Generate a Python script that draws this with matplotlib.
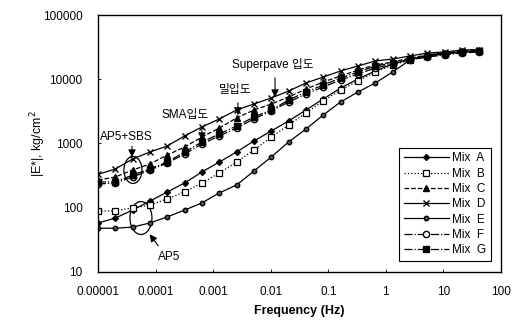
import matplotlib
matplotlib.use("Agg")
import matplotlib.pyplot as plt
from matplotlib.patches import Ellipse

plt.rcParams['font.family'] = ['Liberation Sans', 'Noto Sans CJK KR', 'DejaVu Sans']

freq = [1e-5, 2e-5, 4e-5, 8e-5, 1.6e-4, 3.2e-4, 6.4e-4, 1.28e-3, 2.56e-3, 5.12e-3,
        1.024e-2, 2.048e-2, 4.096e-2, 8.192e-2, 0.1638, 0.3277, 0.6554, 1.311,
        2.621, 5.243, 10.49, 20.97, 41.94]

mix_a = [58, 69, 92, 127, 176, 243, 360, 515, 738, 1094, 1565, 2240, 3320, 4930,
         7310, 10090, 13440, 17280, 20670, 23010, 24720, 26560, 27530]
mix_b = [88, 90, 99, 110, 137, 176, 243, 347, 515, 792, 1260, 1940, 2980, 4590,
         6800, 9390, 12970, 16670, 19940, 23010, 24720, 26560, 27530]
mix_c = [270, 301, 387, 480, 662, 882, 1260, 1740, 2500, 3320, 4120, 5290, 7050,
         9060, 11240, 13930, 16670, 18560, 21420, 23850, 25620, 27530, 28530]
mix_d = [330, 401, 574, 738, 914, 1310, 1810, 2410, 3320, 4120, 5110, 6560, 8740,
         10840, 13440, 16080, 19230, 20670, 23010, 25620, 26560, 28530, 28900]
mix_e = [48, 48, 50, 58, 72, 92, 119, 170, 226, 373, 617, 1055, 1680, 2780, 4430,
         6330, 8740, 12970, 19940, 23850, 25620, 26560, 27530]
mix_f = [234, 243, 301, 387, 497, 686, 982, 1310, 1740, 2410, 3200, 4430, 5890,
         7580, 9730, 12070, 14970, 17280, 19940, 22200, 23850, 25620, 26560]
mix_g = [252, 252, 323, 401, 515, 738, 1055, 1410, 1870, 2590, 3320, 4750, 6330,
         8140, 10460, 12970, 16080, 17900, 20670, 23010, 24720, 26560, 27530]

labels = ["Mix  A", "Mix  B", "Mix  C", "Mix  D", "Mix  E", "Mix  F", "Mix  G"]
xticks = [1e-5, 1e-4, 1e-3, 1e-2, 1e-1, 1, 10, 100]
xticklabels = ["0.00001", "0.0001", "0.001", "0.01", "0.1", "1", "10", "100"]
yticks = [10, 100, 1000, 10000, 100000]
yticklabels = ["10", "100", "1000", "10000", "100000"]

fig = plt.figure(figsize=(5.21, 3.22), dpi=100)
ax = fig.add_axes([0.188, 0.1553, 0.7736, 0.7981])

lw = 0.9
k = 'black'
ax.plot(freq, mix_a, '-', color=k, lw=lw, marker='D', ms=3, mfc=k, mec=k, label=labels[0])
ax.plot(freq, mix_b, ':', color=k, lw=lw, marker='s', ms=4.5, mfc='white', mec=k, mew=0.9, label=labels[1])
ax.plot(freq, mix_c, '--', color=k, lw=lw, marker='^', ms=4.5, mfc=k, mec=k, label=labels[2])
ax.plot(freq, mix_d, '-', color=k, lw=lw, marker='x', ms=4.5, mec=k, mew=1.0, label=labels[3])
ax.plot(freq, mix_e, '-', color=k, lw=lw, marker='o', ms=3.2, mfc='#555555', mec=k, label=labels[4])
ax.plot(freq, mix_f, '-.', color=k, lw=lw, marker='o', ms=4.5, mfc='white', mec=k, mew=1.0, label=labels[5])
ax.plot(freq, mix_g, '-.', color=k, lw=lw, marker='s', ms=4.5, mfc=k, mec=k, label=labels[6])

ax.set_xscale('log')
ax.set_yscale('log')
ax.set_xlim(1e-5, 100)
ax.set_ylim(10, 100000)
ax.set_xticks(xticks)
ax.set_xticklabels(xticklabels)
ax.set_yticks(yticks)
ax.set_yticklabels(yticklabels)
ax.minorticks_off()
ax.tick_params(axis='both', labelsize=8.5, direction='in', length=2, width=0.6)
ax.tick_params(axis='y', pad=11)
ax.tick_params(axis='x', pad=10)
for s in ax.spines.values():
    s.set_linewidth(1.0)

ax.set_xlabel('Frequency (Hz)', fontsize=9, fontweight='bold', labelpad=5)
ax.set_ylabel('|E*|, kg/cm$^2$', fontsize=9)
ax.yaxis.set_label_coords(-0.125, 0.5)

leg = ax.legend(loc='lower right', bbox_to_anchor=(0.99, 0.02), fontsize=8.5,
                frameon=True, fancybox=False, edgecolor='black', framealpha=1,
                handlelength=3.8, labelspacing=0.28, borderpad=0.4, handletextpad=0.3)
leg.get_frame().set_linewidth(0.8)

arrowprops = dict(arrowstyle='-|>', color='black', lw=0.8, mutation_scale=11)
ko = ['Liberation Sans', 'Noto Sans CJK KR']

ax.annotate('', xy=(0.0119, 4750), xytext=(0.0119, 11640), arrowprops=arrowprops)
ax.text(0.00213, 16670, 'Superpave 입도', fontsize=8.5, family=ko, ha='left', va='center')

ax.annotate('', xy=(0.0027, 2495), xytext=(0.0027, 4750), arrowprops=arrowprops)
ax.text(0.0024, 6800, '밀입도', fontsize=8.5, family=ko, ha='center', va='center')

ax.annotate('', xy=(0.00064, 1018), xytext=(0.00064, 1807), arrowprops=arrowprops)
ax.text(0.000324, 2780, 'SMA입도', fontsize=8.5, family=ko, ha='center', va='center')

ax.annotate('', xy=(3.9e-5, 553), xytext=(3.9e-5, 1000), arrowprops=arrowprops)
ax.text(3.06e-5, 1262, 'AP5+SBS', fontsize=8.5, ha='center', va='center')

ax.annotate('', xy=(7.39e-5, 42), xytext=(1.19e-4, 23.6), arrowprops=arrowprops)
ax.text(1.71e-4, 17.1, 'AP5', fontsize=8.5, ha='center', va='center')

ax.add_patch(Ellipse((0.0868, 0.397), 0.0447, 0.105, transform=ax.transAxes,
                     fill=False, edgecolor='black', lw=0.9))
ax.add_patch(Ellipse((0.1067, 0.210), 0.0546, 0.128, transform=ax.transAxes,
                     fill=False, edgecolor='black', lw=0.9))

fig.savefig('out.png', dpi=100)
